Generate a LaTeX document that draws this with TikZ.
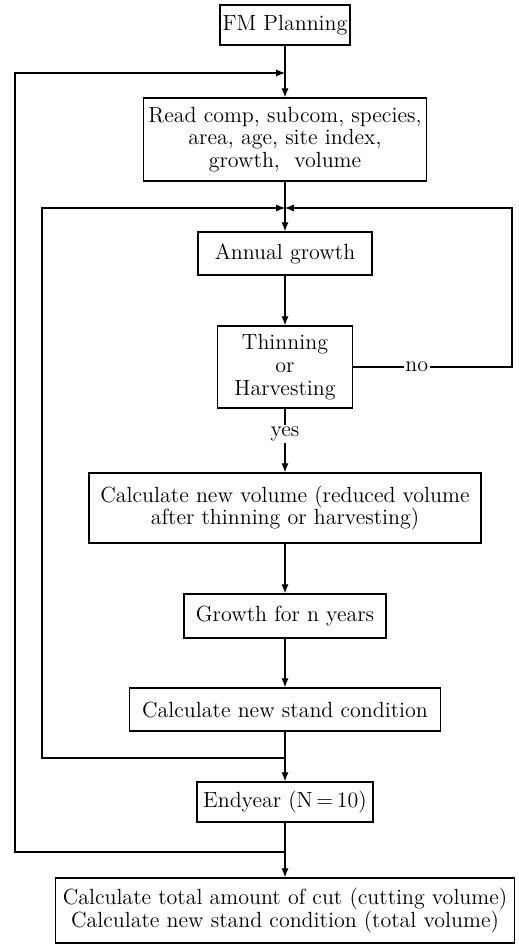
\documentclass[tikz,border=0pt]{standalone}
\usepackage{tikz}
\usetikzlibrary{arrows.meta}

\begin{document}
\begin{tikzpicture}[x=0.02cm,y=-0.02cm,
    box/.style={draw,line width=0.9pt,align=center,inner sep=0pt,font=\fontsize{12.5}{13}\selectfont},
    flow/.style={line width=0.6pt},
    arr/.style={flow,-{Latex[length=5pt,width=4pt]}},
    lbl/.style={fill=white,inner sep=1pt,font=\fontsize{12.5}{13}\selectfont}]
\useasboundingbox (0,0) rectangle (518,945);

\node[box,minimum width=2.6cm,minimum height=0.8cm] (plan) at (285,25) {FM Planning};
\node[box,minimum width=5.66cm,minimum height=1.66cm] (read) at (285,139.5)
    {Read comp, subcom, species,\\ area, age, site index,\\ growth,\ \ volume};
\node[box,minimum width=3.48cm,minimum height=0.86cm] (annual) at (285,253.5) {Annual growth};
\node[box,minimum width=2.7cm,minimum height=1.64cm] (thin) at (285,367) {Thinning\\ or\\ Harvesting};
\node[box,minimum width=7.84cm,minimum height=1.4cm] (newvol) at (285,508)
    {Calculate new volume (reduced volume\\ after thinning or harvesting)};
\node[box,minimum width=4.04cm,minimum height=0.88cm] (growth) at (285,616) {Growth for n years};
\node[box,minimum width=6.22cm,minimum height=0.86cm] (stand) at (285,709.5) {Calculate new stand condition};
\node[box,minimum width=3.52cm,minimum height=0.8cm] (endyear) at (285,802) {Endyear (N\,=\,10)};
\node[box,minimum width=9.18cm,minimum height=1.3cm] (total) at (285,910.5)
    {Calculate total amount of cut (cutting volume)\\ Calculate new stand condition (total volume)};

\coordinate (jA) at (285,73);
\coordinate (jB) at (285,208);
\coordinate (jC) at (285,758);
\coordinate (jD) at (285,852);

\draw[arr] (plan) -- (read);
\draw[arr] (read) -- (annual);
\draw[arr] (annual) -- (thin);
\draw[arr] (thin) -- node[lbl,pos=0.4] {yes} (newvol);
\draw[arr] (newvol) -- (growth);
\draw[arr] (growth) -- (stand);
\draw[arr] (stand) -- (endyear);
\draw[arr] (endyear) -- (total);

\draw[arr] (jD) -- (15,852) -- (15,73) -- (jA);
\draw[arr] (jC) -- (42,758) -- (42,208) -- (jB);
\draw[arr] (thin.east) -- node[lbl,pos=0.4] {no} (512,367) -- (512,208) -- (jB);
\end{tikzpicture}
\end{document}
